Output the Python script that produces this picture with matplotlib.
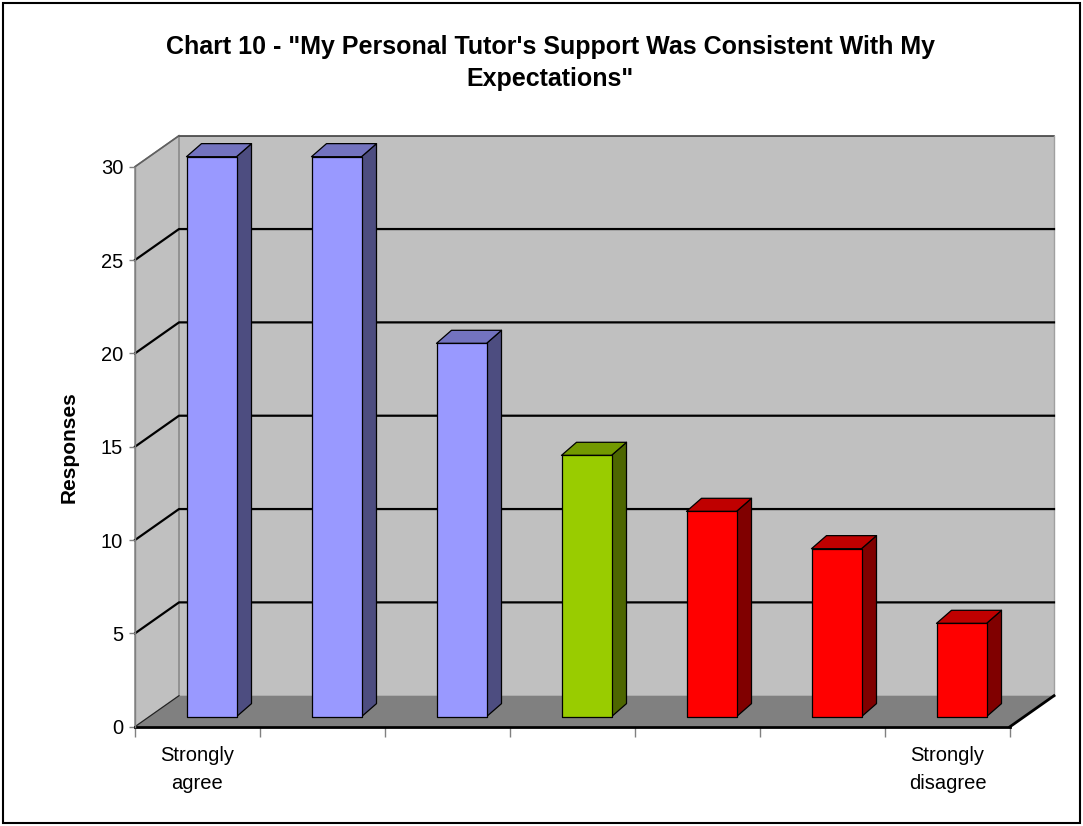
import matplotlib.pyplot as plt
from matplotlib.patches import Polygon, Rectangle
from matplotlib.colors import to_rgb
import numpy as np

plt.rcParams['font.family'] = ['Liberation Sans', 'DejaVu Sans']

categories = ["Strongly\nagree", "", "", "", "", "", "Strongly\ndisagree"]
responses = [30, 30, 20, 14, 11, 9, 5]
y_ticks = [0, 5, 10, 15, 20, 25, 30]
bar_colors = ["#9999FF", "#9999FF", "#9999FF", "#99CC00", "#FF0000", "#FF0000", "#FF0000"]

# oblique projection of the depth axis, in data units
wall_dx, wall_dy = 0.352, 1.66
bar_off_x, bar_off_y = 0.112, 0.536
bar_dx, bar_dy = 0.12, 0.70
bar_w = 0.4

W, H = 1083, 826
fig = plt.figure(figsize=(W / 100, H / 100), dpi=100)
ax = fig.add_axes([135 / W, (H - 726.7) / H, 875 / W, 560 / H])
n = len(responses)
ymax = y_ticks[-1]
ax.set_xlim(0, n)
ax.set_ylim(0, ymax)
ax.patch.set_visible(False)

# back wall, side wall and floor
ax.add_patch(Rectangle((wall_dx, wall_dy), n, ymax, facecolor="#C0C0C0",
                       edgecolor="none", clip_on=False, zorder=0))
ax.add_patch(Polygon([(0, 0), (wall_dx, wall_dy), (wall_dx, ymax + wall_dy), (0, ymax)],
                     facecolor="#C0C0C0", edgecolor="#808080", lw=1, clip_on=False, zorder=0))
ax.add_patch(Polygon([(0, 0), (n, 0), (n + wall_dx, wall_dy), (wall_dx, wall_dy)],
                     facecolor="#808080", edgecolor="none", clip_on=False, zorder=0.5))
ax.plot([wall_dx, n + wall_dx], [ymax + wall_dy] * 2, color="#404040", lw=1.2, clip_on=False, zorder=1)
ax.plot([0, wall_dx], [ymax, ymax + wall_dy], color="#606060", lw=1.2, clip_on=False, zorder=1)
ax.plot([n + wall_dx] * 2, [wall_dy, ymax + wall_dy], color="#A0A0A0", lw=1, clip_on=False, zorder=1)
ax.plot([0, wall_dx], [0, wall_dy], color="#202020", lw=0.8, clip_on=False, zorder=1)
ax.plot([n, n + wall_dx], [0, wall_dy], color="black", lw=2, clip_on=False, zorder=1)

# gridlines on both walls
for v in y_ticks[1:-1]:
    ax.plot([0, wall_dx, n + wall_dx], [v, v + wall_dy, v + wall_dy],
            color="black", lw=1.6, clip_on=False, zorder=1)


def shade(c, f):
    r, g, b = to_rgb(c)
    return (r * f, g * f, b * f)


# 3-D bars: front face, side face, top face
for i, (val, col) in enumerate(zip(responses, bar_colors)):
    x0 = i + (1 - bar_w) / 2 + bar_off_x
    x1 = x0 + bar_w
    y0 = bar_off_y
    y1 = y0 + val
    kw = dict(edgecolor="black", lw=0.9, clip_on=False, zorder=3, joinstyle="round")
    ax.add_patch(Polygon([(x1, y0), (x1 + bar_dx, y0 + bar_dy), (x1 + bar_dx, y1 + bar_dy), (x1, y1)],
                         facecolor=shade(col, 0.5), **kw))
    ax.add_patch(Polygon([(x0, y1), (x1, y1), (x1 + bar_dx, y1 + bar_dy), (x0 + bar_dx, y1 + bar_dy)],
                         facecolor=shade(col, 0.75), **kw))
    ax.add_patch(Rectangle((x0, y0), bar_w, val, facecolor=col, **kw))

# axes
for s in ["top", "right"]:
    ax.spines[s].set_visible(False)
ax.spines["left"].set_color("#808080")
ax.spines["left"].set_linewidth(1)
ax.spines["bottom"].set_color("black")
ax.spines["bottom"].set_linewidth(2)
ax.spines["bottom"].set_zorder(2)

ax.set_yticks(y_ticks)
ax.tick_params(axis="y", direction="out", length=4.5, width=1, color="#808080",
               labelsize=14.5, pad=4)
ax.set_xticks(np.arange(n + 1))
ax.set_xticklabels([])
ax.tick_params(axis="x", which="major", direction="out", length=7.5, width=1, color="#808080")
ax.set_xticks(np.arange(n) + 0.5, minor=True)
ax.set_xticklabels(categories, minor=True, fontsize=14.5, linespacing=1.6)
ax.tick_params(axis="x", which="minor", length=0, pad=14)

ax.set_ylabel("Responses", fontsize=15, fontweight="bold", labelpad=16)

fig.text(550 / W, 1 - 63 / H, "Chart 10 - \"My Personal Tutor's Support Was Consistent With My\nExpectations\"",
         ha="center", va="center", fontsize=18, fontweight="bold", linespacing=1.45)

fig.patches.append(Rectangle((3 / W, 3 / H), 1 - 6 / W, 1 - 6 / H, transform=fig.transFigure,
                             fill=False, edgecolor="black", lw=1.5))

fig.savefig("out.png", dpi=100)
